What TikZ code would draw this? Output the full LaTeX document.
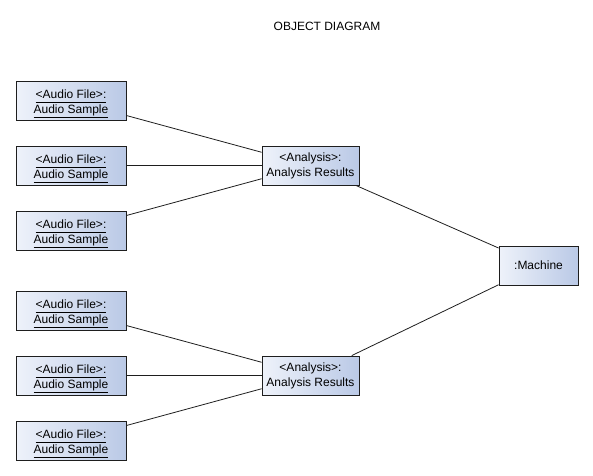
\documentclass[tikz,border=0pt]{standalone}
\usepackage{fontspec}
\setmainfont{Liberation Sans}
\definecolor{boxl}{RGB}{238,242,250}
\definecolor{boxr}{RGB}{186,201,230}
\definecolor{edge}{RGB}{30,30,30}
\newcommand{\ul}[1]{\underline{\smash{#1}\vphantom{p}}}
\begin{document}
\begin{tikzpicture}[x=1pt,y=-1pt,
  obj/.style={draw=edge, line width=0.8pt, left color=boxl, right color=boxr,
    minimum height=39pt, inner sep=0pt, align=center,
    font=\fontsize{12}{15}\selectfont},
  audio/.style={obj, minimum width=110pt},
  anal/.style={obj, minimum width=97pt},
  mach/.style={obj, minimum width=79pt},
  txt/.style={inner sep=0pt, align=center, font=\fontsize{12}{15}\selectfont},
  link/.style={draw=edge, line width=0.8pt}]
\useasboundingbox (0,0) rectangle (593,475);
\node[font=\fontsize{12}{14}\selectfont] (title) at (327,26) {OBJECT DIAGRAM};
\foreach \i/\y in {1/100.5,2/165.5,3/230.5,4/310.5,5/375.5,6/440.5}{
  \node[audio] (a\i) at (71,\y) {};
  \node[txt] (a\i t) at ([yshift=-4.5pt]a\i.center) {\ul{<Audio File>:}\\\ul{Audio Sample}};
}
\node[anal] (r1) at (310.5,165.5) {<Analysis>:\\Analysis Results};
\node[anal] (r2) at (310.5,375.5) {<Analysis>:\\Analysis Results};
\node[mach] (m) at (538.5,265.5) {:Machine};
\draw[link] (a1) -- (r1);
\draw[link] (a2) -- (r1);
\draw[link] (a3) -- (r1);
\draw[link] (a4) -- (r2);
\draw[link] (a5) -- (r2);
\draw[link] (a6) -- (r2);
\draw[link] (r1) -- (m);
\draw[link] (r2) -- (m);
\end{tikzpicture}
\end{document}
